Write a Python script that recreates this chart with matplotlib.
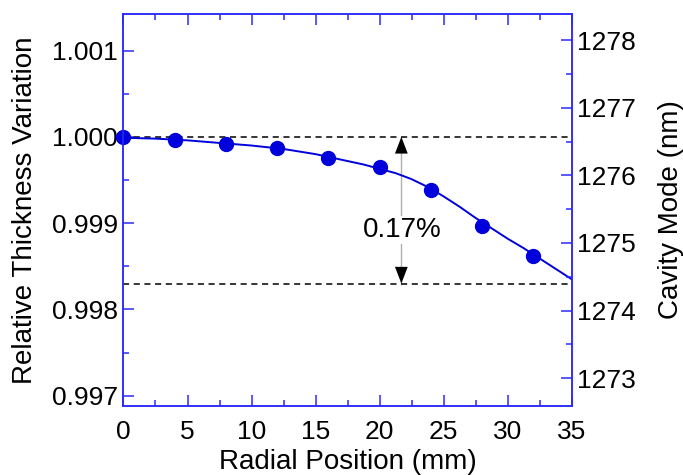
import matplotlib.pyplot as plt
from matplotlib.ticker import MultipleLocator

plt.rcParams['font.family'] = ['Liberation Sans', 'DejaVu Sans']

# measured points (relative thickness)
pos = [0, 4, 8, 12, 16, 20, 24, 28, 32]
thick = [1.00000, 0.99996, 0.99992, 0.99987, 0.99976, 0.99965, 0.99939, 0.99897, 0.99862]

# fit curve
fit_x = [0, 2.5, 5, 7.5, 10, 12.5, 15, 16.25, 17.5, 18.75, 20, 21.25, 22.5, 23.75,
         25, 26.25, 27.5, 28.75, 30, 31.25, 32.5, 33.75, 35]
fit_y = [0.99999, 0.99998, 0.99996, 0.99993, 0.99990, 0.99986, 0.99980, 0.99976,
         0.99972, 0.99968, 0.99963, 0.99958, 0.99951, 0.99942, 0.99931, 0.99919,
         0.99906, 0.99894, 0.99882, 0.99871, 0.99859, 0.99847, 0.99835]

top_level = 1.000
bottom_level = 0.9983
arrow_x = 21.7
label = "0.17%"
mode_scale = 1276.57  # cavity mode (nm) per unit relative thickness

ylim = (0.99688, 1.001425)
blue = '#0000dd'
spine_blue = '#2a2aff'

fig = plt.figure(figsize=(6.83, 4.75), dpi=100)
ax = fig.add_axes([0.1808, 0.1453, 0.6562, 0.8252])

ax.plot(fit_x, fit_y, color=blue, lw=1.4, zorder=3)
ax.plot(pos, thick, 'o', color=blue, ms=10, zorder=4, clip_on=False)

ax.axhline(top_level, color='k', ls=(0, (4, 3)), lw=1.1, zorder=2)
ax.axhline(bottom_level, color='k', ls=(0, (4, 3)), lw=1.1, zorder=2)

# arrow between the two levels
ax.plot([arrow_x, arrow_x], [bottom_level, top_level], color='#b0b0b0', lw=1.0, zorder=1)
for a, b in [(top_level, top_level - 0.0002), (bottom_level, bottom_level + 0.0002)]:
    ax.annotate('', xy=(arrow_x, a), xytext=(arrow_x, b),
                arrowprops=dict(arrowstyle='-|>,head_length=0.6,head_width=0.23',
                                mutation_scale=20, color='k', lw=0,
                                shrinkA=0, shrinkB=0), zorder=5)
ax.text(arrow_x + 0.1, 0.99892, label, fontsize=20, ha='center', va='center',
        bbox=dict(facecolor='white', edgecolor='none', pad=1), zorder=4)

ax.set_xlim(0, 35)
ax.set_ylim(*ylim)
ax.xaxis.set_major_locator(MultipleLocator(5))
ax.xaxis.set_minor_locator(MultipleLocator(2.5))
ax.yaxis.set_major_locator(MultipleLocator(0.001))
ax.yaxis.set_minor_locator(MultipleLocator(0.0005))
ax.yaxis.set_major_formatter(plt.FormatStrFormatter('%.3f'))

ax.set_xlabel('Radial Position (mm)', fontsize=20, labelpad=4)
ax.set_ylabel('Relative Thickness Variation', fontsize=20, labelpad=10)

ax2 = ax.twinx()
ax2.set_ylim(ylim[0] * mode_scale, ylim[1] * mode_scale)
ax2.yaxis.set_major_locator(MultipleLocator(1))
ax2.yaxis.set_minor_locator(MultipleLocator(0.5))
ax2.set_ylabel('Cavity Mode (nm)', fontsize=20, labelpad=16)

for a in (ax, ax2):
    for s in a.spines.values():
        s.set_color(spine_blue)
        s.set_linewidth(1.1)
    a.tick_params(which='both', direction='in', color=spine_blue, labelsize=19, width=1.1)
    a.tick_params(which='major', length=7.7)
    a.tick_params(which='minor', length=4.3)

ax.tick_params(axis='x', which='both', top=True, pad=10)
ax.tick_params(axis='y', which='both', right=False, pad=4)
ax2.tick_params(axis='y', which='both', pad=4)

fig.savefig('out.png', dpi=100)
